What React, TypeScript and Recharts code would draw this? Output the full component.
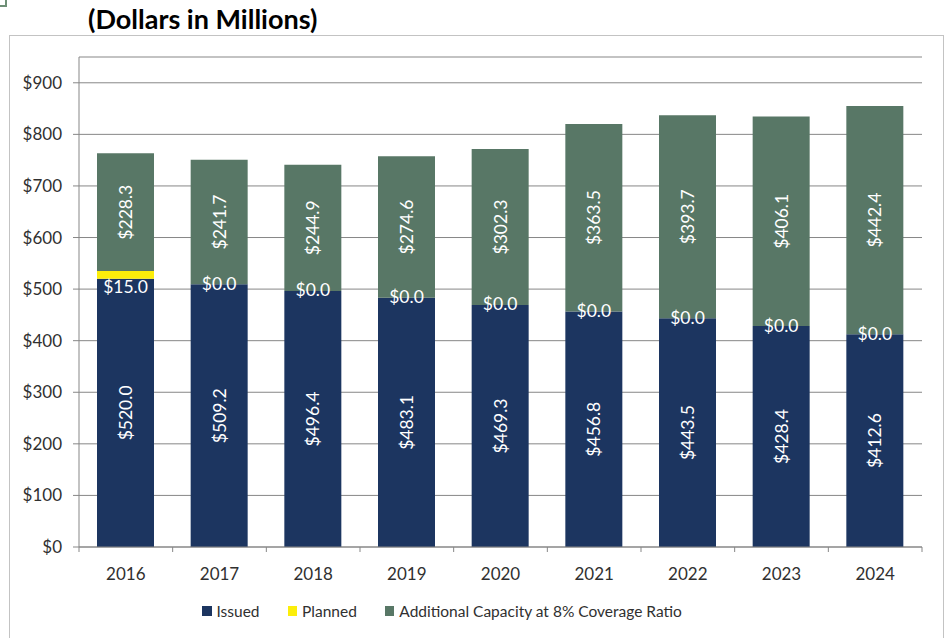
import React from 'react';
import { BarChart, Bar, XAxis, YAxis, CartesianGrid, LabelList } from 'recharts';

const years = ['2016', '2017', '2018', '2019', '2020', '2021', '2022', '2023', '2024'];
const issued = [520.0, 509.2, 496.4, 483.1, 469.3, 456.8, 443.5, 428.4, 412.6];
const planned = [15.0, 0.0, 0.0, 0.0, 0.0, 0.0, 0.0, 0.0, 0.0];
const additional = [228.3, 241.7, 244.9, 274.6, 302.3, 363.5, 393.7, 406.1, 442.4];
const yTicks = [0, 100, 200, 300, 400, 500, 600, 700, 800, 900];

const data = years.map((y, i) => ({ year: y, issued: issued[i], planned: planned[i], additional: additional[i] }));

const FONT = 'Lato, "Open Sans", sans-serif';
const NAVY = '#1c3560';
const YELLOW = '#fcee0a';
const GREEN = '#587766';
const AXIS = '#878787';
const TEXT = '#303030';
const LABEL_SIZE = 17.5;

const fmt = (v: number) => '$' + Number(v).toFixed(1);

const VerticalLabel = (props: any) => {
  const { x, y, width, height, value } = props;
  const cx = x + width / 2;
  const cy = y + height / 2;
  return (
    <text x={cx} y={cy} transform={`rotate(-90, ${cx}, ${cy})`} textAnchor="middle" dominantBaseline="central"
      fill="#ffffff" fontSize={LABEL_SIZE} fontFamily={FONT}>
      {fmt(value)}
    </text>
  );
};

// Green segment label plus the "Planned" label drawn just under it (so it stays on top of all bars)
const GreenLabel = (props: any) => {
  const { x, y, width, height, value, index } = props;
  const cx = x + width / 2;
  const cy = y + height / 2;
  const pxPerUnit = value ? height / value : 0;
  const p = planned[index] ?? 0;
  const base = y + height;
  const pcy = p > 0 ? base + p * pxPerUnit + 8 : base - 1;
  return (
    <g>
      <text x={cx} y={cy} transform={`rotate(-90, ${cx}, ${cy})`} textAnchor="middle" dominantBaseline="central"
        fill="#ffffff" fontSize={LABEL_SIZE} fontFamily={FONT}>
        {fmt(value)}
      </text>
      <text x={cx} y={pcy} textAnchor="middle" dominantBaseline="central" fill="#ffffff" fontSize={LABEL_SIZE} fontFamily={FONT}>
        {fmt(p)}
      </text>
    </g>
  );
};

const HALF_BAND = (922 - 79) / 18;

const XTick = (props: any) => {
  const { x, payload, index } = props;
  const axisY = 547;
  return (
    <g>
      <line x1={x - HALF_BAND} y1={axisY} x2={x - HALF_BAND} y2={axisY + 5} stroke={AXIS} />
      {index === years.length - 1 && (
        <line x1={x + HALF_BAND} y1={axisY} x2={x + HALF_BAND} y2={axisY + 5} stroke={AXIS} />
      )}
      <text x={x} y={573} textAnchor="middle" dominantBaseline="central" fill={TEXT} fontSize={17} fontFamily={FONT}>
        {payload.value}
      </text>
    </g>
  );
};

const legendItems = [
  { label: 'Issued', color: NAVY },
  { label: 'Planned', color: YELLOW },
  { label: 'Additional Capacity at 8% Coverage Ratio', color: GREEN },
];

export default function App() {
  return (
    <div style={{ position: 'absolute', left: 0, top: 0, width: 948, height: 638, background: '#fff', overflow: 'hidden', fontFamily: FONT }}>
      <div style={{ position: 'absolute', left: 0, top: 0, width: 5, height: 5, borderRight: '2px solid #6e8f76', borderBottom: '2px solid #6e8f76' }} />
      <div style={{ position: 'absolute', left: 9, top: 35, width: 933, height: 640, border: '1px solid #c3c3c3' }} />
      <div style={{ position: 'absolute', left: 88, top: 2, fontSize: 27, fontWeight: 700, color: '#000', whiteSpace: 'nowrap', fontFamily: FONT, lineHeight: '34px' }}>
        (Dollars in Millions)
      </div>
      <div style={{ position: 'absolute', left: 0, top: 0 }}>
        <BarChart width={948} height={638} data={data} margin={{ top: 57, right: 26, bottom: 61, left: 9 }} barSize={57}>
          <CartesianGrid horizontal={true} vertical={false} stroke={AXIS} strokeWidth={1} />
          <XAxis dataKey="year" stroke={AXIS} tickLine={false} tick={<XTick />} interval={0} height={30} />
          <YAxis domain={[0, 950]} ticks={yTicks} width={70} stroke={AXIS} tickSize={6} tickMargin={11}
            tickFormatter={(v: number) => '$' + v} tick={{ fill: TEXT, fontSize: 17, fontFamily: FONT }} />
          <Bar dataKey="issued" stackId="a" fill={NAVY} isAnimationActive={false}>
            <LabelList dataKey="issued" content={<VerticalLabel />} />
          </Bar>
          <Bar dataKey="planned" stackId="a" fill={YELLOW} isAnimationActive={false} />
          <Bar dataKey="additional" stackId="a" fill={GREEN} isAnimationActive={false}>
            <LabelList dataKey="additional" content={<GreenLabel />} />
          </Bar>
        </BarChart>
      </div>
      <div style={{ position: 'absolute', left: 202, top: 602, display: 'flex', alignItems: 'center', fontSize: 15.5, color: TEXT, whiteSpace: 'nowrap' }}>
        {legendItems.map((it) => (
          <div key={it.label} style={{ display: 'flex', alignItems: 'center', marginRight: 28 }}>
            <span style={{ display: 'inline-block', width: 9.5, height: 9.5, background: it.color, marginRight: 5 }} />
            <span>{it.label}</span>
          </div>
        ))}
      </div>
    </div>
  );
}
